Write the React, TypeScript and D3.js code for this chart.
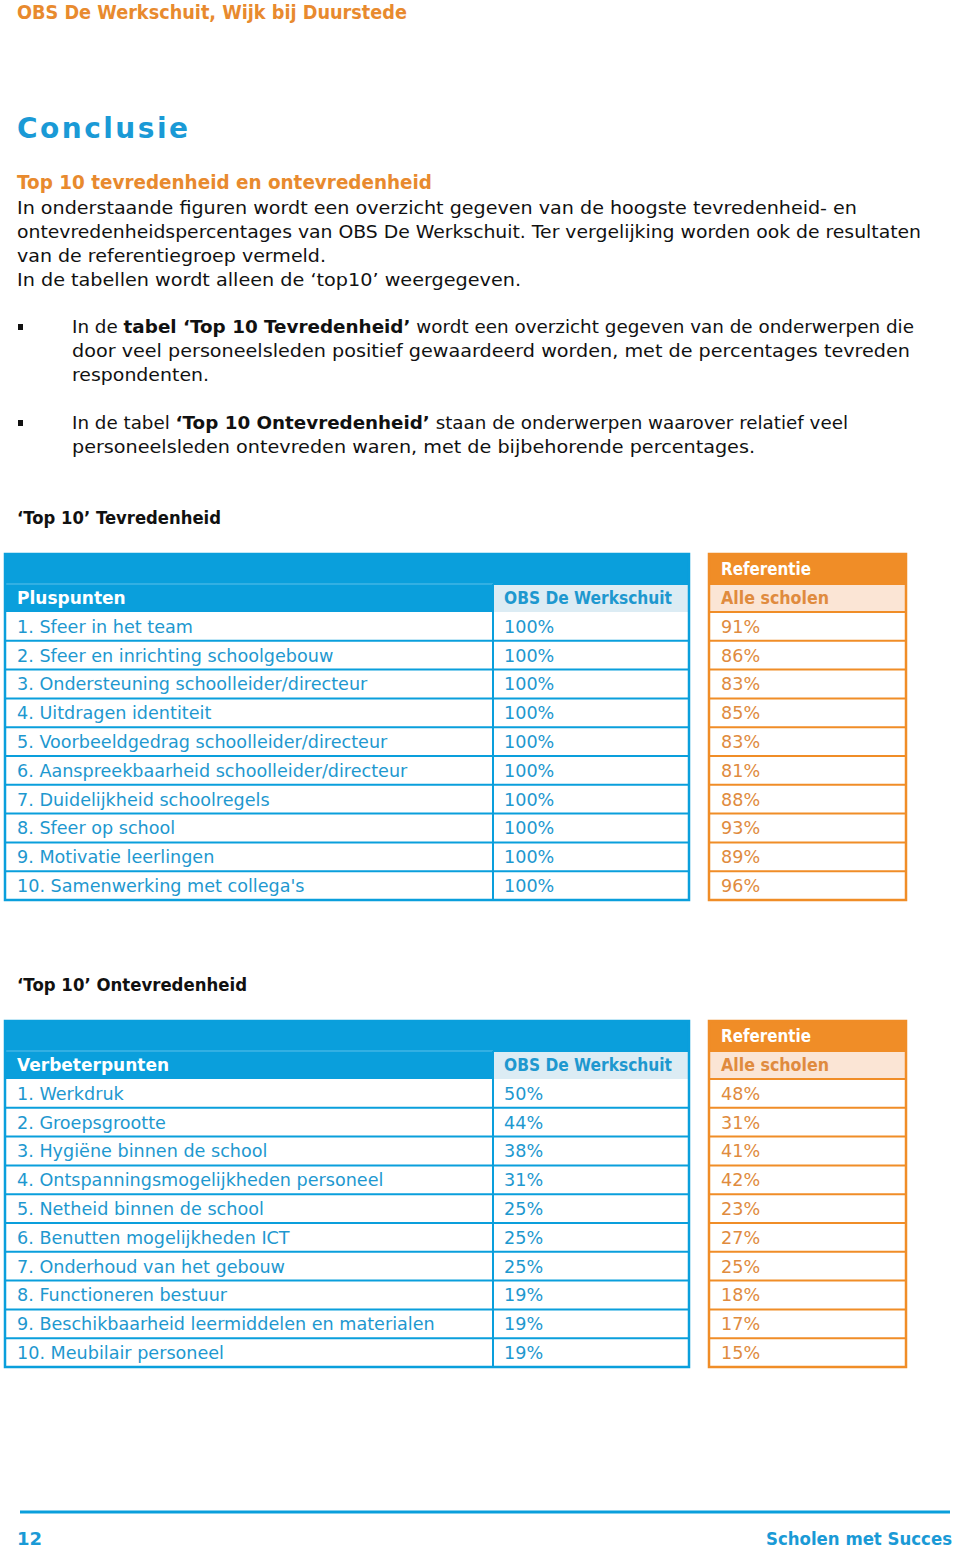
import React from "react";
import * as d3 from "d3";

// ---- Data ----
const plusLabels = [
  "1. Sfeer in het team",
  "2. Sfeer en inrichting schoolgebouw",
  "3. Ondersteuning schoolleider/directeur",
  "4. Uitdragen identiteit",
  "5. Voorbeeldgedrag schoolleider/directeur",
  "6. Aanspreekbaarheid schoolleider/directeur",
  "7. Duidelijkheid schoolregels",
  "8. Sfeer op school",
  "9. Motivatie leerlingen",
  "10. Samenwerking met collega's",
];
const plusSchool = [100, 100, 100, 100, 100, 100, 100, 100, 100, 100];
const plusRef = [91, 86, 83, 85, 83, 81, 88, 93, 89, 96];

const verbLabels = [
  "1. Werkdruk",
  "2. Groepsgrootte",
  "3. Hygiëne binnen de school",
  "4. Ontspanningsmogelijkheden personeel",
  "5. Netheid binnen de school",
  "6. Benutten mogelijkheden ICT",
  "7. Onderhoud van het gebouw",
  "8. Functioneren bestuur",
  "9. Beschikbaarheid leermiddelen en materialen",
  "10. Meubilair personeel",
];
const verbSchool = [50, 44, 38, 31, 25, 25, 25, 19, 19, 19];
const verbRef = [48, 31, 41, 42, 23, 27, 25, 18, 17, 15];

const BLUE = "#0a9fdc";
const BLUE_TXT = "#1e98cf";
const LIGHT_BLUE = "#dcecf4";
const ORANGE = "#f08d27";
const ORANGE_TXT = "#e08b3e";
const PEACH = "#fbe5d5";
const TITLE_OR = "#e88a2e";
const FONT = "'DejaVu Sans', sans-serif";

type TableProps = {
  top: number;
  headLabel: string;
  labels: string[];
  school: number[];
  ref: number[];
};

function Table({ top, headLabel, labels, school, ref }: TableProps) {
  const bandTop = top;
  const headTop = top + 30;
  const rowsTop = top + 58;
  const rowsBottom = rowsTop + 288;
  const y = d3
    .scaleBand<number>()
    .domain(d3.range(labels.length))
    .range([rowsTop, rowsBottom]);
  const x0 = 5, xDiv = 493, x1 = 689, r0 = 709, r1 = 906;
  const fmt = (v: number) => `${v}%`;
  const fs = 17.6;
  return (
    <g>
      {/* blue table */}
      <rect x={x0} y={bandTop} width={x1 - x0} height={headTop - bandTop} fill={BLUE} />
      <rect x={x0} y={headTop} width={xDiv - x0} height={rowsTop - headTop} fill={BLUE} />
      <rect x={xDiv} y={headTop} width={x1 - xDiv} height={rowsTop - headTop} fill={LIGHT_BLUE} />
      <line x1={x0} x2={xDiv} y1={headTop} y2={headTop} stroke="#5cc0ea" strokeWidth={1} />
      <line x1={xDiv} x2={x1} y1={headTop} y2={headTop} stroke={BLUE} strokeWidth={2} />
      {labels.map((_, i) => (
        <line key={"bl" + i} x1={x0} x2={x1} y1={(y(i) as number) + y.bandwidth()} y2={(y(i) as number) + y.bandwidth()} stroke={BLUE} strokeWidth={2} />
      ))}
      <line x1={xDiv} x2={xDiv} y1={headTop} y2={rowsBottom} stroke={BLUE} strokeWidth={2} />
      <rect x={x0} y={bandTop} width={x1 - x0} height={rowsBottom - bandTop} fill="none" stroke={BLUE} strokeWidth={2.5} />
      <text x={17} y={(headTop + rowsTop) / 2} dy="0.36em" fill="#fff" fontWeight="bold" fontSize={17} fontFamily={FONT}>{headLabel}</text>
      <text x={504} y={(headTop + rowsTop) / 2} dy="0.36em" fill={BLUE_TXT} fontWeight="bold" fontSize={17} fontFamily={FONT} textLength={168} lengthAdjust="spacingAndGlyphs">OBS De Werkschuit</text>
      {labels.map((lab, i) => (
        <g key={"r" + i}>
          <text x={17} y={(y(i) as number) + y.bandwidth() / 2} dy="0.36em" fill={BLUE_TXT} fontSize={fs} fontFamily={FONT}>{lab}</text>
          <text x={504} y={(y(i) as number) + y.bandwidth() / 2} dy="0.36em" fill={BLUE_TXT} fontSize={fs} fontFamily={FONT}>{fmt(school[i])}</text>
        </g>
      ))}

      {/* orange table */}
      <rect x={r0} y={bandTop} width={r1 - r0} height={headTop - bandTop} fill={ORANGE} />
      <rect x={r0} y={headTop} width={r1 - r0} height={rowsTop - headTop} fill={PEACH} />
      <line x1={r0} x2={r1} y1={headTop} y2={headTop} stroke={ORANGE} strokeWidth={2} />
      {labels.map((_, i) => (
        <line key={"ol" + i} x1={r0} x2={r1} y1={(y(i) as number)} y2={(y(i) as number)} stroke={ORANGE} strokeWidth={2} />
      ))}
      <rect x={r0} y={bandTop} width={r1 - r0} height={rowsBottom - bandTop} fill="none" stroke={ORANGE} strokeWidth={2.5} />
      <text x={721} y={(bandTop + headTop) / 2} dy="0.36em" fill="#fff" fontWeight="bold" fontSize={17} fontFamily={FONT} textLength={90} lengthAdjust="spacingAndGlyphs">Referentie</text>
      <text x={721} y={(headTop + rowsTop) / 2} dy="0.36em" fill={ORANGE_TXT} fontWeight="bold" fontSize={17} fontFamily={FONT} textLength={108} lengthAdjust="spacingAndGlyphs">Alle scholen</text>
      {ref.map((v, i) => (
        <text key={"rv" + i} x={721} y={(y(i) as number) + y.bandwidth() / 2} dy="0.36em" fill={ORANGE_TXT} fontSize={fs} fontFamily={FONT}>{fmt(v)}</text>
      ))}
    </g>
  );
}

export default function App() {
  const body = 17.5;
  return (
    <svg
      width={960}
      height={1552}
      style={{ position: "absolute", left: 0, top: 0, background: "#fff" }}
      fontFamily={FONT}
    >
      <rect width={960} height={1552} fill="#fff" />
      <text x={17} y={12} dy="0.36em" fill={TITLE_OR} fontWeight="bold" fontSize={19} textLength={390} lengthAdjust="spacingAndGlyphs">OBS De Werkschuit, Wijk bij Duurstede</text>
      <text x={17} y={128} dy="0.36em" fill="#1a9ad6" fontWeight="bold" fontSize={28} textLength={171} lengthAdjust="spacing">Conclusie</text>
      <text x={17} y={182} dy="0.36em" fill={TITLE_OR} fontWeight="bold" fontSize={19} textLength={415} lengthAdjust="spacingAndGlyphs">Top 10 tevredenheid en ontevredenheid</text>

      <g fill="#111" fontSize={body}>
        <text x={17} y={208} dy="0.36em" textLength={840} lengthAdjust="spacingAndGlyphs">In onderstaande figuren wordt een overzicht gegeven van de hoogste tevredenheid- en</text>
        <text x={17} y={232} dy="0.36em" textLength={904} lengthAdjust="spacingAndGlyphs">ontevredenheidspercentages van OBS De Werkschuit. Ter vergelijking worden ook de resultaten</text>
        <text x={17} y={256} dy="0.36em" textLength={309} lengthAdjust="spacingAndGlyphs">van de referentiegroep vermeld.</text>
        <text x={17} y={280} dy="0.36em" textLength={504} lengthAdjust="spacingAndGlyphs">In de tabellen wordt alleen de ‘top10’ weergegeven.</text>

        <rect x={18} y={324} width={5} height={6} fill="#111" />
        <text x={72} y={327} dy="0.36em" textLength={842} lengthAdjust="spacingAndGlyphs">In de <tspan fontWeight="bold">tabel ‘Top 10 Tevredenheid’</tspan> wordt een overzicht gegeven van de onderwerpen die</text>
        <text x={72} y={351} dy="0.36em" textLength={838} lengthAdjust="spacingAndGlyphs">door veel personeelsleden positief gewaardeerd worden, met de percentages tevreden</text>
        <text x={72} y={375} dy="0.36em" textLength={137} lengthAdjust="spacingAndGlyphs">respondenten.</text>

        <rect x={18} y={420} width={5} height={6} fill="#111" />
        <text x={72} y={423} dy="0.36em" textLength={776} lengthAdjust="spacingAndGlyphs">In de tabel <tspan fontWeight="bold">‘Top 10 Ontevredenheid’</tspan> staan de onderwerpen waarover relatief veel</text>
        <text x={72} y={447} dy="0.36em" textLength={683} lengthAdjust="spacingAndGlyphs">personeelsleden ontevreden waren, met de bijbehorende percentages.</text>

        <text x={17} y={518} dy="0.36em" fontWeight="bold" textLength={204} lengthAdjust="spacingAndGlyphs">‘Top 10’ Tevredenheid</text>
        <text x={17} y={985} dy="0.36em" fontWeight="bold" textLength={230} lengthAdjust="spacingAndGlyphs">‘Top 10’ Ontevredenheid</text>
      </g>

      <Table top={554} headLabel="Pluspunten" labels={plusLabels} school={plusSchool} ref={plusRef} />
      <Table top={1021} headLabel="Verbeterpunten" labels={verbLabels} school={verbSchool} ref={verbRef} />

      <line x1={20} x2={950} y1={1512} y2={1512} stroke={BLUE} strokeWidth={3} />
      <text x={17} y={1539} dy="0.36em" fill="#1a9ad6" fontWeight="bold" fontSize={18}>12</text>
      <text x={952} y={1539} dy="0.36em" fill="#1a9ad6" fontWeight="bold" fontSize={17} textAnchor="end" textLength={186} lengthAdjust="spacingAndGlyphs">Scholen met Succes</text>
    </svg>
  );
}
